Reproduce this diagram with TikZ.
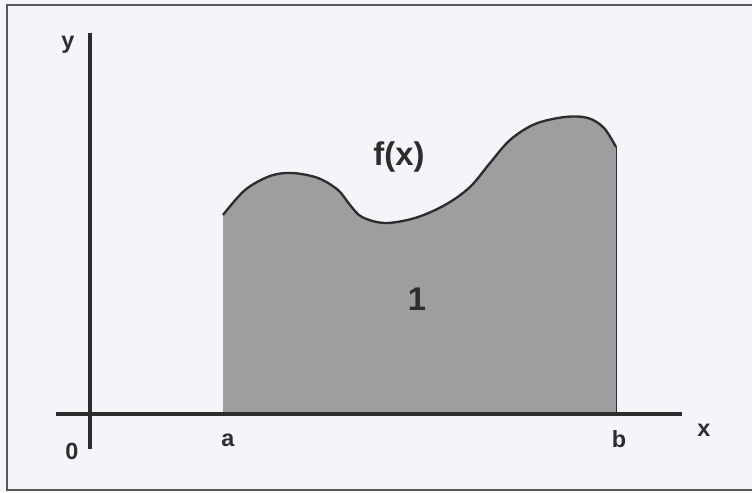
\documentclass[tikz,border=0pt]{standalone}
\usepackage{fontspec}
\setsansfont{Liberation Sans}
\usetikzlibrary{positioning}
\definecolor{fondoHoja}{RGB}{243,245,248}
\definecolor{areaGris}{RGB}{158,158,160}
\definecolor{trazo}{RGB}{45,45,45}

\begin{document}
\begin{tikzpicture}[x=0.03cm, y=-0.03cm, font=\sffamily\bfseries,
        eje/.style={draw=trazo, line width=2.9pt},
        curva/.style={draw=trazo, line width=2pt},
        etq/.style={text=trazo, font=\sffamily\bfseries\fontsize{20}{22}\selectfont, inner sep=0pt},
        etqgrande/.style={text=trazo, font=\sffamily\bfseries\fontsize{28}{30}\selectfont, inner sep=0pt}]
    \useasboundingbox (0,0) rectangle (752,492);
    \clip (0,0) rectangle (752,492);
    \fill[fondoHoja] (0,0) rectangle (752,492);
    \draw[trazo!80, line width=1.1pt] (7,5) rectangle (770,490);
    % area bajo la curva
    \coordinate (pa) at (223,414);
    \coordinate (pb) at (616,414);
    \fill[areaGris] (pa) -- plot[smooth, tension=0.55] coordinates {(223,215) (245,190) (270,176) (292,173) (318,178) (338,190) (350,205) (362,217) (385,223) (415,218) (445,205) (470,187) (490,163) (510,140) (535,124) (565,117) (588,118) (604,128) (616,147)} -- (pb) -- cycle;
    \draw[curva] plot[smooth, tension=0.55] coordinates {(223,215) (245,190) (270,176) (292,173) (318,178) (338,190) (350,205) (362,217) (385,223) (415,218) (445,205) (470,187) (490,163) (510,140) (535,124) (565,117) (588,118) (604,128) (616,147)};
    \draw[trazo, line width=0.5pt] (616,147) -- (pb);
    % ejes
    \coordinate (xini) at (56,414);
    \coordinate (xfin) at (682,414);
    \coordinate (yini) at (90,449);
    \coordinate (yfin) at (90,33);
    \draw[eje] (xini) -- (xfin);
    \draw[eje] (yini) -- (yfin);
    % etiquetas
    \node[etq] (ly) at (68,45) {y};
    \node[etq] (lx) at (704,430) {x};
    \node[etq] (l0) at (72,451) {0};
    \node[etq] (la) at (228,440) {a};
    \node[etq] (lb) at (619,439) {b};
    \node[etqgrande] (lf) at (399,157) {f(x)};
    \node[etqgrande] (l1) at (417,299) {1};
\end{tikzpicture}
\end{document}
